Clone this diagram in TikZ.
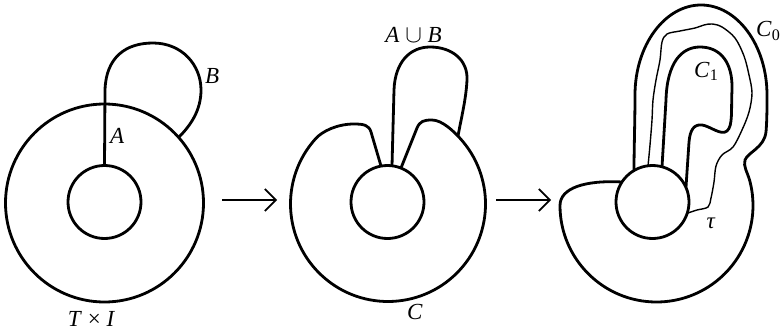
\documentclass[tikz,border=0pt]{standalone}
\usepackage{fontspec}
\setmainfont{Liberation Serif}
\usetikzlibrary{arrows.meta}
\tikzset{
    rand/.style={line width=2.8pt, line join=round},
    duenn/.style={line width=1.4pt},
    pfeil/.style={line width=1.7pt, -{Straight Barb[length=11pt,width=22pt]}},
    beschr/.style={font=\fontsize{23}{27}\selectfont, inner sep=0pt},
}

\begin{document}
\begin{tikzpicture}[x=1pt, y=-1pt]
\useasboundingbox (0,0) rectangle (782,332);

% Mittelpunkte
\coordinate (M1) at (104.5,203);
\coordinate (K1) at (104.5,202);
\coordinate (K2) at (387.5,202);
\coordinate (K3) at (652.5,202);

% Bild 1: Vollring mit A und B
\draw[rand] (M1) circle (99);
\draw[rand] (K1) circle (36.5);
\draw[rand] (104.5,165.5) -- (105,90) .. controls (106,57) and (126,43) .. (153,43)
    .. controls (182,43) and (201,65) .. (201,90) .. controls (201,110) and (191,125) .. (179,137);

\node[beschr, anchor=base west] (labA) at (110,143) {\textit{A}};
\node[beschr, anchor=base west] (labB) at (205,83) {\textit{B}};
\node[beschr, anchor=base] (labTI) at (91.5,326) {\textit{T} × \textit{I}};

% Pfeile
\coordinate (p1s) at (222,200);
\coordinate (p1e) at (277,200);
\coordinate (p2s) at (496,200);
\coordinate (p2e) at (551,200);
\draw[pfeil] (p1s) -- (p1e);
\draw[pfeil] (p2s) -- (p2e);

% Bild 2: aufgeschnitten
\draw[rand] (K2) circle (36.5);
\draw[rand] (381,166) -- (371,132) .. controls (369,125.2) and (364,124) .. (354,124)
    .. controls (337,124) and (322.2,131.3) .. (315.55,138.76)
    arc[start angle=222, end angle=-42, radius=97.5]
    .. controls (453.8,131.3) and (442,120) .. (432,120)
    .. controls (424,120) and (420,121) .. (417,128) -- (401,168);
\draw[rand] (392,166) -- (394,90) .. controls (395,62) and (410,47) .. (430,47)
    .. controls (452,47) and (468,60) .. (467,80) .. controls (466,100) and (461,119) .. (458,136.1);

\node[beschr, anchor=base] (labAB) at (413.5,42) {\textit{A} $\cup$ \textit{B}};
\node[beschr, anchor=base] (labC) at (415,319) {\textit{C}};

% Bild 3: C_0, C_1 und tau
\draw[rand] (K3) circle (36.5);
\draw[rand] (622,182) .. controls (585,180) and (560,188) .. (560,205.5)
    arc[start angle=180, end angle=-15, radius=96.5]
    .. controls (747.6,172.8) and (743,166) .. (745,160)
    .. controls (748,152) and (764,148) .. (766,132)
    .. controls (767,120) and (767,108) .. (767,95)
    .. controls (767,45) and (737,5) .. (701,5)
    .. controls (665,5) and (635,45) .. (635,95)
    .. controls (635,120) and (634,150) .. (634,170);
\draw[rand] (662,167) -- (666,100) .. controls (667,62) and (682,47) .. (700,47)
    .. controls (720,47) and (733,62) .. (732,90) .. controls (731,110) and (733,126) .. (727,131)
    .. controls (721,136) and (710,126) .. (702,125) .. controls (694,124) and (690,130) .. (689,142)
    -- (686,187);
\draw[duenn] plot[smooth, tension=0.55] coordinates {(648,166) (650,145) (652,120) (653,100)
    (656,80) (660,60) (662,42) (667,34) (680,31) (695,28) (704,25) (712,24) (722,27) (735,38)
    (744,56) (749,75) (752,93) (749,112) (742,130) (733,147) (722,155) (716,166) (714,182)
    (711,198) (708,207) (697,210) (688,213)};

\node[beschr, anchor=base west] (labC0) at (756,36.5) {\textit{C}\textsubscript{0}};
\node[beschr, anchor=base west] (labC1) at (694,77) {\textit{C}\textsubscript{1}};
\node[beschr, anchor=base] (labtau) at (711,228) {\textit{τ}};

\end{tikzpicture}
\end{document}
